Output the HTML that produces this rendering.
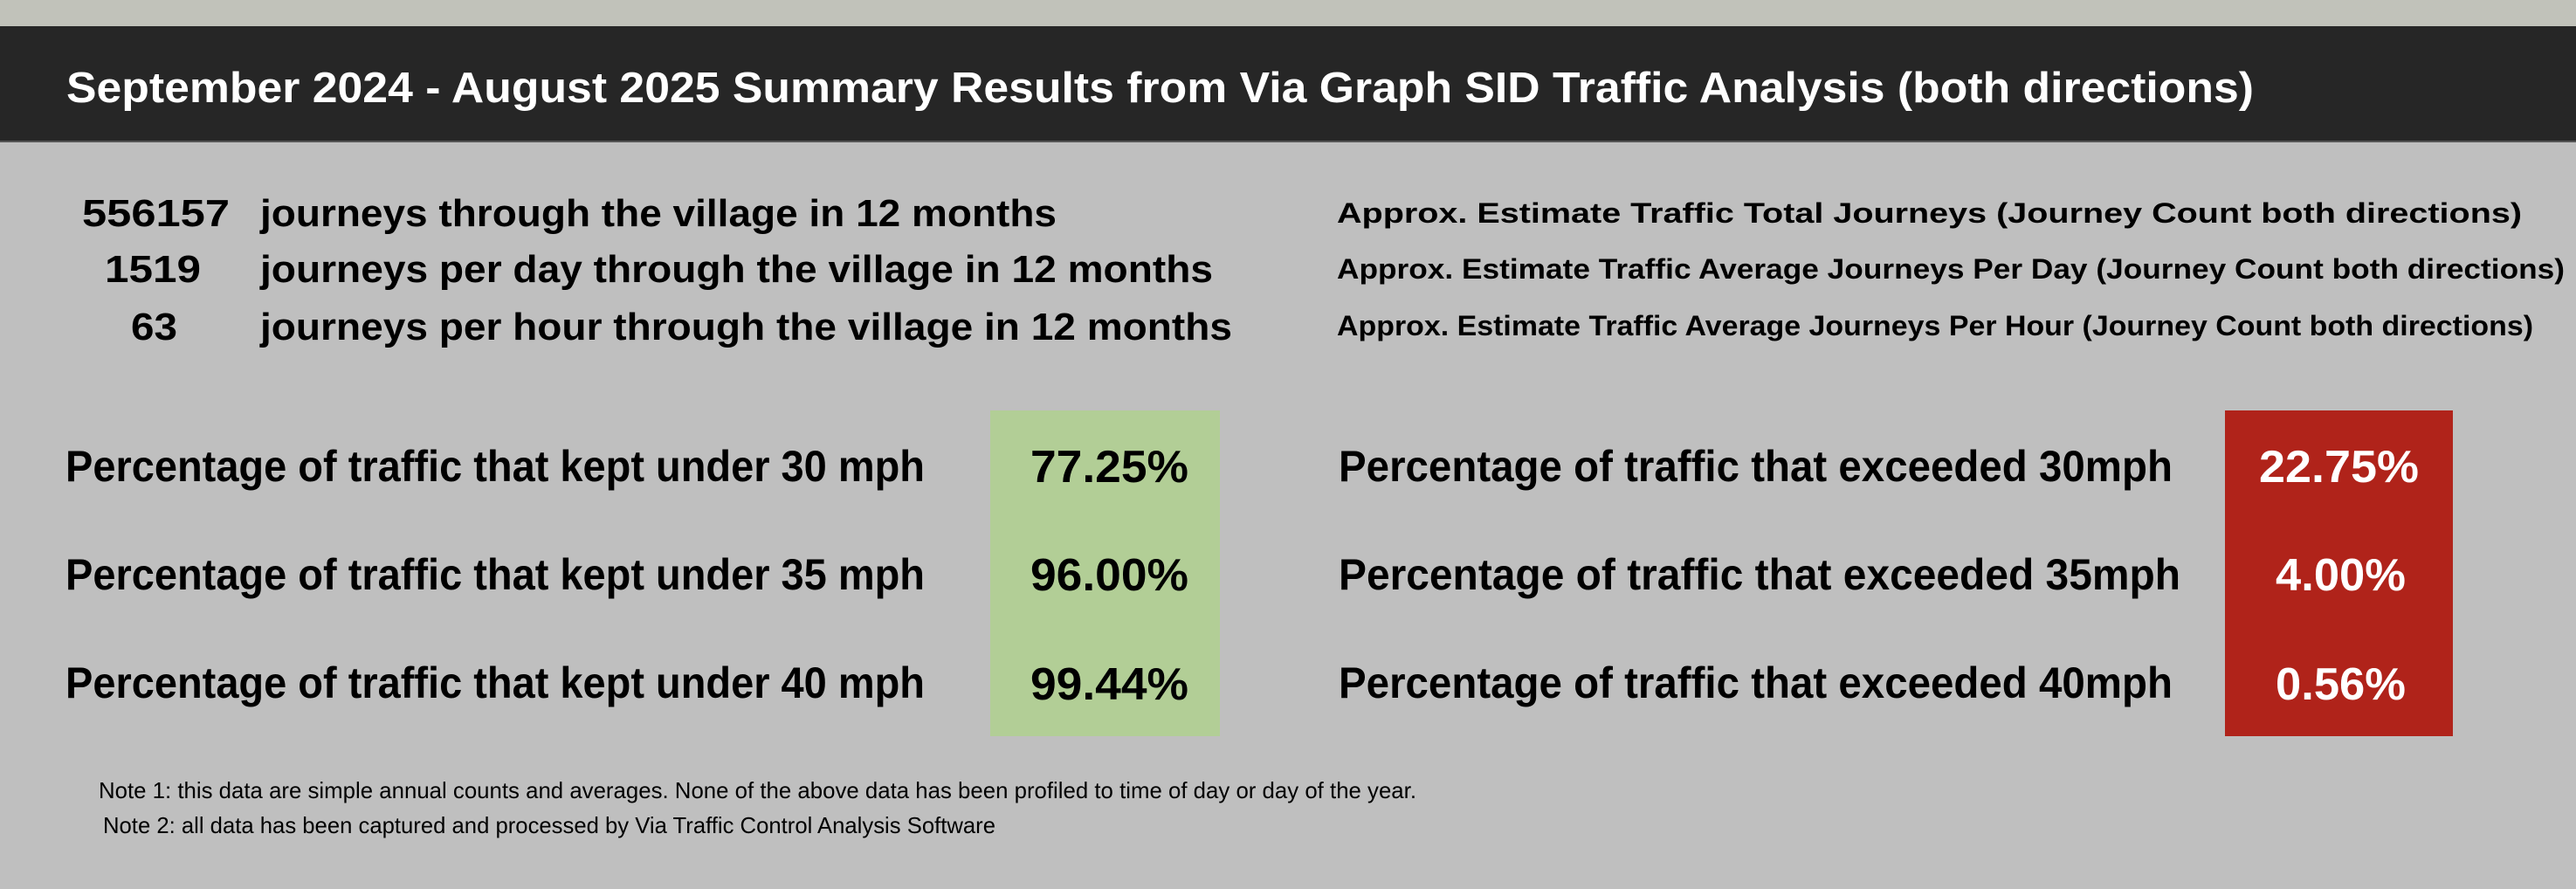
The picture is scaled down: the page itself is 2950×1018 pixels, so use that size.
<!DOCTYPE html>
<html><head><meta charset="utf-8"><style>
html,body{margin:0;padding:0;background:#bfbfbf;}
svg{display:block;}
text{font-family:"Liberation Sans",sans-serif;}
</style></head><body>
<svg width="2950" height="1018" viewBox="0 0 2950 1018" xmlns="http://www.w3.org/2000/svg">
<rect x="0" y="0" width="2950" height="1018" fill="#bfbfbf"/>
<rect x="0" y="0" width="2950" height="30" fill="#c1c2ba"/>
<rect x="0" y="30" width="2950" height="131" fill="#262626"/>
<rect x="0" y="161" width="2950" height="2" fill="#555"/>
<text x="76" y="117" font-size="49" font-weight="bold" fill="#fff" textLength="2505" lengthAdjust="spacingAndGlyphs">September 2024 - August 2025 Summary Results from Via Graph SID Traffic Analysis (both directions)</text>

<g font-size="44" font-weight="bold" fill="#000">
<text x="94" y="259" textLength="169" lengthAdjust="spacingAndGlyphs">556157</text>
<text x="298" y="259" textLength="912" lengthAdjust="spacingAndGlyphs">journeys through the village in 12 months</text>
<text x="120" y="323" textLength="110" lengthAdjust="spacingAndGlyphs">1519</text>
<text x="298" y="323" textLength="1091" lengthAdjust="spacingAndGlyphs">journeys per day through the village in 12 months</text>
<text x="150" y="389" textLength="53" lengthAdjust="spacingAndGlyphs">63</text>
<text x="298" y="389" textLength="1113" lengthAdjust="spacingAndGlyphs">journeys per hour through the village in 12 months</text>
</g>
<g font-size="32" font-weight="bold" fill="#000">
<text x="1531" y="255" textLength="1357" lengthAdjust="spacingAndGlyphs">Approx. Estimate Traffic Total Journeys (Journey Count both directions)</text>
<text x="1531" y="319" textLength="1406" lengthAdjust="spacingAndGlyphs">Approx. Estimate Traffic Average Journeys Per Day (Journey Count both directions)</text>
<text x="1531" y="384" textLength="1370" lengthAdjust="spacingAndGlyphs">Approx. Estimate Traffic Average Journeys Per Hour (Journey Count both directions)</text>
</g>

<rect x="1134" y="470" width="263" height="373" fill="#b2ce96"/>
<rect x="2548" y="470" width="261" height="373" fill="#b0231a"/>

<g font-size="50" font-weight="bold" fill="#000">
<text x="75" y="551" textLength="984" lengthAdjust="spacingAndGlyphs">Percentage of traffic that kept under 30 mph</text>
<text x="75" y="675" textLength="984" lengthAdjust="spacingAndGlyphs">Percentage of traffic that kept under 35 mph</text>
<text x="75" y="799" textLength="984" lengthAdjust="spacingAndGlyphs">Percentage of traffic that kept under 40 mph</text>
<text x="1533" y="551" textLength="955" lengthAdjust="spacingAndGlyphs">Percentage of traffic that exceeded 30mph</text>
<text x="1533" y="675" textLength="964" lengthAdjust="spacingAndGlyphs">Percentage of  traffic that exceeded 35mph</text>
<text x="1533" y="799" textLength="955" lengthAdjust="spacingAndGlyphs">Percentage of traffic that exceeded 40mph</text>
</g>
<g font-size="52" font-weight="bold" fill="#000">
<text x="1180" y="552" textLength="181" lengthAdjust="spacingAndGlyphs">77.25%</text>
<text x="1180" y="676" textLength="181" lengthAdjust="spacingAndGlyphs">96.00%</text>
<text x="1180" y="801" textLength="181" lengthAdjust="spacingAndGlyphs">99.44%</text>
</g>
<g font-size="52" font-weight="bold" fill="#fff">
<text x="2587" y="552" textLength="183" lengthAdjust="spacingAndGlyphs">22.75%</text>
<text x="2606" y="676" textLength="149" lengthAdjust="spacingAndGlyphs">4.00%</text>
<text x="2606" y="801" textLength="149" lengthAdjust="spacingAndGlyphs">0.56%</text>
</g>

<g font-size="26" fill="#000">
<text x="113" y="914" textLength="1509" lengthAdjust="spacingAndGlyphs">Note 1:  this data are  simple annual counts and averages. None of the above data has been profiled to time of day or day of the year.</text>
<text x="118" y="954" textLength="1022" lengthAdjust="spacingAndGlyphs">Note 2:  all data has been captured and processed by Via Traffic Control Analysis Software</text>
</g>
</svg>
</body></html>
